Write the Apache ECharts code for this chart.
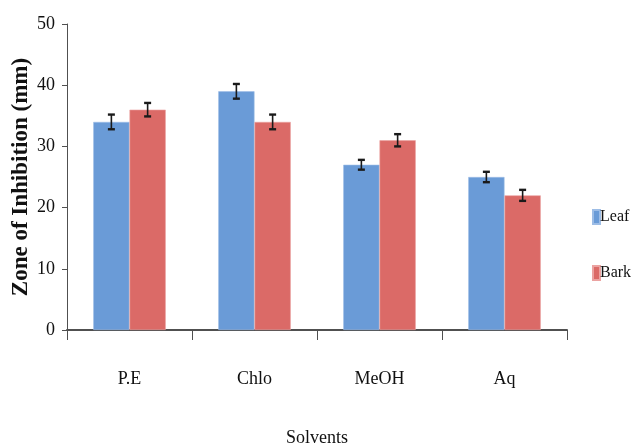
<!DOCTYPE html>
<html>
<head>
<meta charset="utf-8">
<script src="https://cdn.jsdelivr.net/npm/echarts@6/dist/echarts.min.js"></script>
<style>
  html, body { margin: 0; padding: 0; background: #fff; }
  #chart { width: 632px; height: 447px; }
</style>
</head>
<body>
<div id="chart"></div>
<script>
// data
const solvents = ['P.E', 'Chlo', 'MeOH', 'Aq']
const leafVals = [34, 39, 27, 25]
const barkVals = [36, 34, 31, 22]
const leafErr = [1.2, 1.2, 0.8, 0.85]
const barkErr = [1.1, 1.2, 1.0, 0.9]
const yTicks = [0, 10, 20, 30, 40, 50]

const serif = 'Liberation Serif'
const catGap = 0.42

// error bar drawing, shifted left/right onto each bar of the pair
function errorBars(vals, errs, side) {
  return {
    type: 'custom',
    z: 10,
    silent: true,
    data: vals.map((v, i) => [i, v, errs[i]]),
    renderItem(params, api) {
      const band = api.size([1, 0])[0]
      const shift = side * band * (1 - catGap) / 4
      const hi = api.coord([api.value(0), api.value(1) + api.value(2)])
      const lo = api.coord([api.value(0), api.value(1) - api.value(2)])
      const x = hi[0] + shift
      const cap = 3.5
      const st = { stroke: '#1a1a1a', lineWidth: 1.6 }
      const capSt = { stroke: '#1a1a1a', lineWidth: 2.4 }
      return {
        type: 'group',
        children: [
          { type: 'line', shape: { x1: x, y1: hi[1], x2: x, y2: lo[1] }, style: st },
          { type: 'line', shape: { x1: x - cap, y1: hi[1], x2: x + cap, y2: hi[1] }, style: capSt },
          { type: 'line', shape: { x1: x - cap, y1: lo[1], x2: x + cap, y2: lo[1] }, style: capSt }
        ]
      }
    }
  }
}

const chart = echarts.init(document.getElementById('chart'))
chart.setOption({
  backgroundColor: '#fff',
  animation: false,
  grid: { left: 67, right: 65, top: 24, bottom: 117, outerBoundsMode: 'none' },
  legend: {
    orient: 'vertical',
    left: 587,
    top: 204,
    icon: 'rect',
    itemWidth: 7,
    itemHeight: 14,
    itemGap: 40,
    data: ['Leaf', 'Bark'],
    textStyle: { fontFamily: serif, fontSize: 16, color: '#111', padding: [0, 0, 0, -5] }
  },
  xAxis: {
    type: 'category',
    data: solvents,
    name: 'Solvents',
    nameLocation: 'middle',
    nameGap: 99,
    nameMoveOverlap: false,
    nameTextStyle: { fontFamily: serif, fontSize: 18, color: '#111' },
    axisLine: { lineStyle: { color: '#505050', width: 2 } },
    axisTick: { show: true, length: 10, lineStyle: { color: '#505050' } },
    axisLabel: { fontFamily: serif, fontSize: 18, color: '#111', margin: 40 }
  },
  yAxis: {
    type: 'value',
    min: yTicks[0],
    max: yTicks[yTicks.length - 1],
    interval: 10,
    name: 'Zone of Inhibition (mm)',
    nameLocation: 'middle',
    nameGap: 34,
    nameMoveOverlap: false,
    nameTextStyle: { fontFamily: serif, fontSize: 23, fontWeight: 'bold', color: '#111' },
    splitLine: { show: false },
    axisLine: { show: true, lineStyle: { color: '#505050' } },
    axisTick: { show: true, length: 5, lineStyle: { color: '#505050' } },
    axisLabel: { fontFamily: serif, fontSize: 18, color: '#111', margin: 12 }
  },
  series: [
    {
      name: 'Leaf',
      type: 'bar',
      data: leafVals,
      barGap: '0%',
      barCategoryGap: (catGap * 100) + '%',
      itemStyle: { color: '#6A9BD7', borderColor: '#9dbde6', borderWidth: 0.6 }
    },
    {
      name: 'Bark',
      type: 'bar',
      data: barkVals,
      barGap: '0%',
      barCategoryGap: (catGap * 100) + '%',
      itemStyle: { color: '#DB6A67', borderColor: '#eba3a1', borderWidth: 0.6 }
    },
    errorBars(leafVals, leafErr, -1),
    errorBars(barkVals, barkErr, 1)
  ]
})
</script>
</body>
</html>
